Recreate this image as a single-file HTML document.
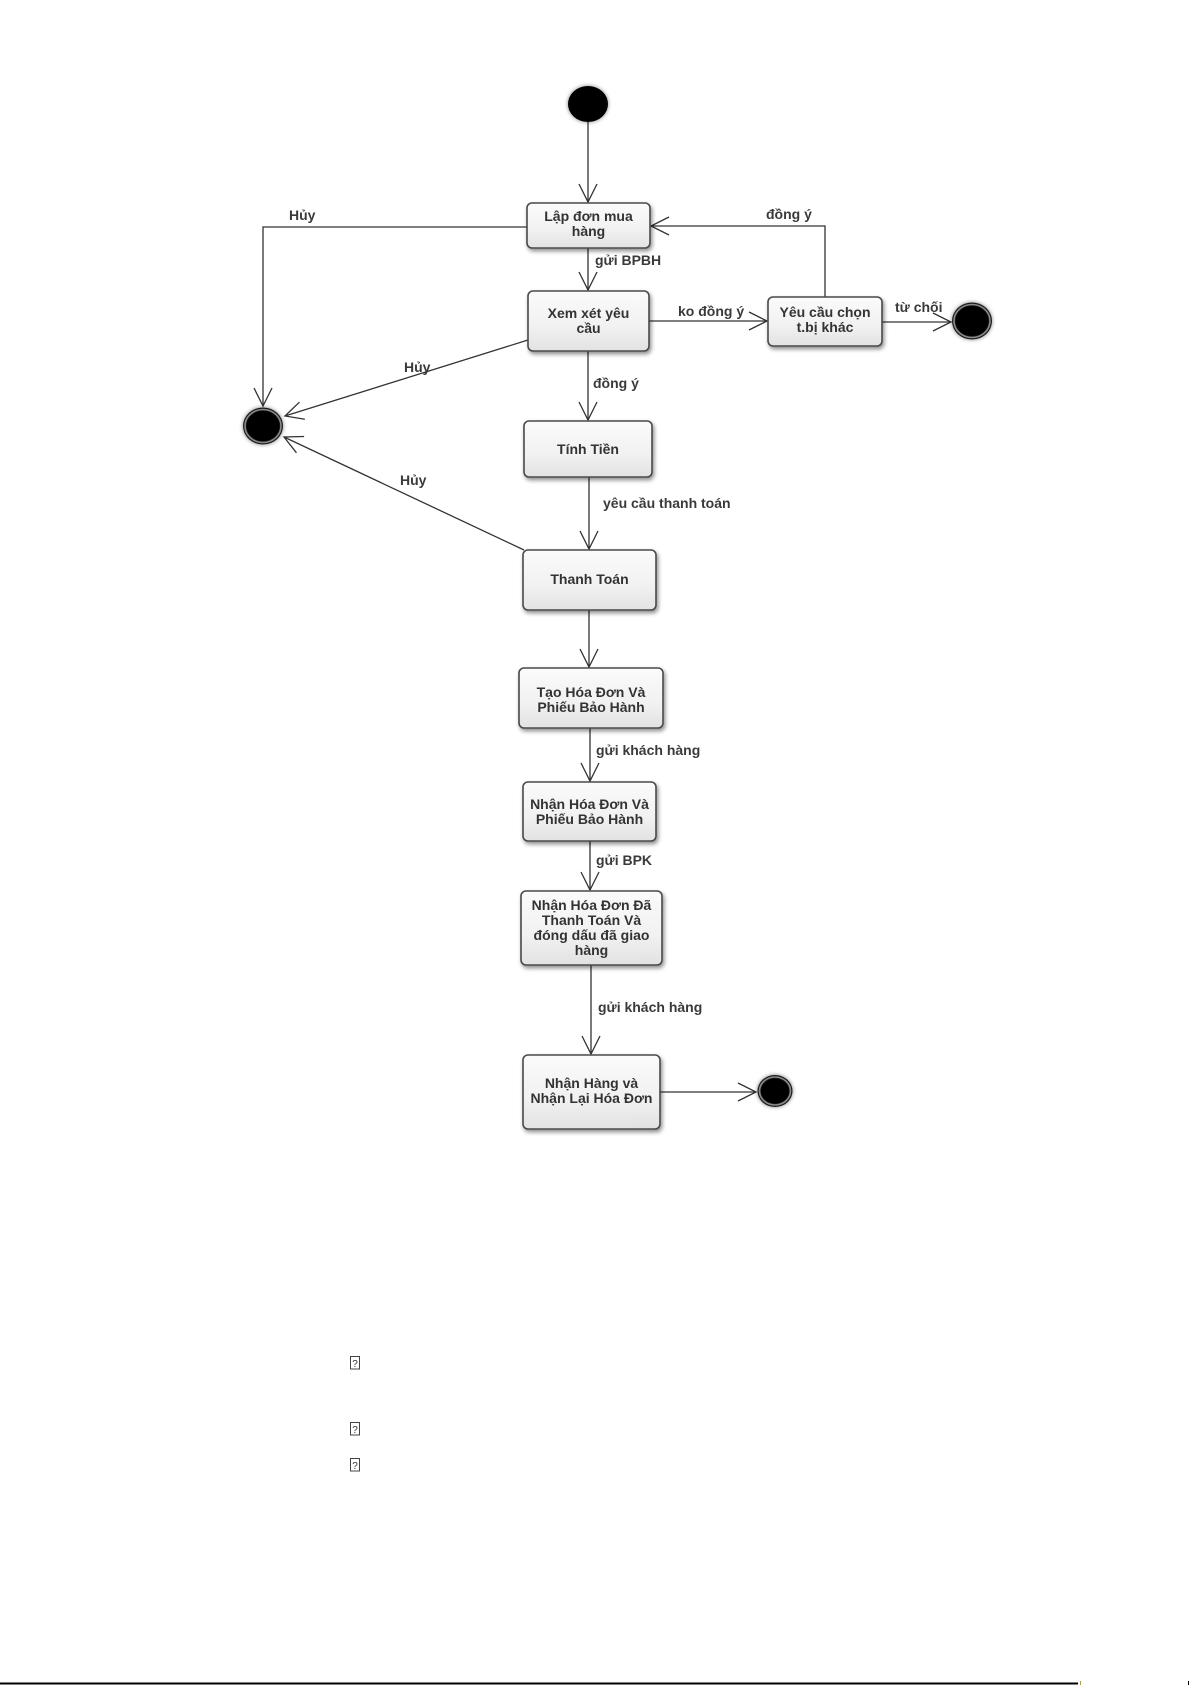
<!DOCTYPE html>
<html>
<head>
<meta charset="utf-8">
<style>
  html,body{margin:0;padding:0;background:#fff;}
  body{width:1192px;height:1685px;overflow:hidden;}
  svg{display:block;}
  .bx{font-family:"Liberation Sans","DejaVu Sans",sans-serif;font-weight:bold;font-size:14px;fill:#333;}
  .lb{font-family:"Liberation Sans","DejaVu Sans",sans-serif;font-weight:bold;font-size:14px;fill:#3a3a3a;}
</style>
</head>
<body>
<svg width="1192" height="1685" viewBox="0 0 1192 1685" xmlns="http://www.w3.org/2000/svg">
  <defs>
    <linearGradient id="g" x1="0" y1="0" x2="0" y2="1">
      <stop offset="0" stop-color="#fbfbfb"/>
      <stop offset="0.6" stop-color="#f1f1f1"/>
      <stop offset="1" stop-color="#e2e2e2"/>
    </linearGradient>
    <filter id="sh" x="-20%" y="-20%" width="140%" height="150%">
      <feGaussianBlur in="SourceAlpha" stdDeviation="2"/>
      <feOffset dx="1.5" dy="2.5" result="o"/>
      <feComponentTransfer><feFuncA type="linear" slope="0.45"/></feComponentTransfer>
      <feMerge><feMergeNode/><feMergeNode in="SourceGraphic"/></feMerge>
    </filter>
    <filter id="cb" x="-50%" y="-50%" width="200%" height="200%">
      <feGaussianBlur in="SourceAlpha" stdDeviation="2.2"/>
      <feComponentTransfer><feFuncA type="linear" slope="0.5"/></feComponentTransfer>
      <feMerge><feMergeNode/><feMergeNode in="SourceGraphic"/></feMerge>
    </filter>
    <marker id="ar" markerUnits="userSpaceOnUse" markerWidth="24" markerHeight="24" viewBox="-20 -12 24 24" refX="0" refY="0" orient="auto">
      <path d="M -18 -9 L 0 0 L -18 9" fill="none" stroke="#333" stroke-width="1.3"/>
    </marker>
  </defs>

  <!-- connectors -->
  <g stroke="#333" stroke-width="1.3" fill="none">
    <line x1="588" y1="122" x2="588" y2="202" marker-end="url(#ar)"/>
    <polyline points="527,227 263,227 263,406" marker-end="url(#ar)"/>
    <line x1="588" y1="248" x2="588" y2="290" marker-end="url(#ar)"/>
    <polyline points="825,297 825,226 651,226" marker-end="url(#ar)"/>
    <line x1="649" y1="321" x2="767" y2="321" marker-end="url(#ar)"/>
    <line x1="882" y1="322" x2="951" y2="322" marker-end="url(#ar)"/>
    <line x1="528" y1="340" x2="285" y2="416" marker-end="url(#ar)"/>
    <line x1="588" y1="351" x2="588" y2="420" marker-end="url(#ar)"/>
    <line x1="589" y1="477" x2="589" y2="549" marker-end="url(#ar)"/>
    <line x1="524" y1="550" x2="284" y2="437" marker-end="url(#ar)"/>
    <line x1="589" y1="610" x2="589" y2="667" marker-end="url(#ar)"/>
    <line x1="590" y1="728" x2="590" y2="781" marker-end="url(#ar)"/>
    <line x1="590" y1="841" x2="590" y2="890" marker-end="url(#ar)"/>
    <line x1="591" y1="965" x2="591" y2="1054" marker-end="url(#ar)"/>
    <line x1="660" y1="1092" x2="756" y2="1092" marker-end="url(#ar)"/>
  </g>

  <!-- start node -->
  <ellipse cx="588" cy="104" rx="20" ry="18" fill="#000" filter="url(#cb)"/>

  <!-- final nodes -->
  <g filter="url(#cb)">
    <ellipse cx="263" cy="426" rx="20" ry="18.5" fill="#1a1a1a"/>
    <ellipse cx="263" cy="426" rx="18" ry="16.5" fill="none" stroke="#8a8a8a" stroke-width="1.6"/>
    <ellipse cx="263" cy="426" rx="16.5" ry="15" fill="#000"/>

    <ellipse cx="972" cy="321" rx="20" ry="18.5" fill="#1a1a1a"/>
    <ellipse cx="972" cy="321" rx="18" ry="16.5" fill="none" stroke="#8a8a8a" stroke-width="1.6"/>
    <ellipse cx="972" cy="321" rx="16.5" ry="15" fill="#000"/>

    <ellipse cx="775" cy="1091" rx="17.5" ry="16" fill="#1a1a1a"/>
    <ellipse cx="775" cy="1091" rx="15.5" ry="14" fill="none" stroke="#8a8a8a" stroke-width="1.6"/>
    <ellipse cx="775" cy="1091" rx="14" ry="12.5" fill="#000"/>
  </g>

  <!-- boxes -->
  <g fill="url(#g)" stroke="#4a4a4a" stroke-width="1.6" filter="url(#sh)">
    <rect x="527" y="203" width="123" height="45" rx="5"/>
    <rect x="528" y="291" width="121" height="60" rx="5"/>
    <rect x="768" y="297" width="114" height="49" rx="5"/>
    <rect x="524" y="421" width="128" height="56" rx="5"/>
    <rect x="523" y="550" width="133" height="60" rx="5"/>
    <rect x="519" y="668" width="144" height="60" rx="5"/>
    <rect x="523" y="782" width="133" height="59" rx="5"/>
    <rect x="521" y="891" width="141" height="74" rx="5"/>
    <rect x="523" y="1055" width="137" height="74" rx="5"/>
  </g>

  <!-- box text -->
  <g class="bx" text-anchor="middle">
    <text x="588.5" y="221">Lập đơn mua</text>
    <text x="588.5" y="236">hàng</text>
    <text x="588.5" y="318">Xem xét yêu</text>
    <text x="588.5" y="333">cầu</text>
    <text x="825" y="317">Yêu cầu chọn</text>
    <text x="825" y="332">t.bị khác</text>
    <text x="588" y="454">Tính Tiền</text>
    <text x="589.5" y="584">Thanh Toán</text>
    <text x="591" y="697">Tạo Hóa Đơn Và</text>
    <text x="591" y="712">Phiếu Bảo Hành</text>
    <text x="589.5" y="809">Nhận Hóa Đơn Và</text>
    <text x="589.5" y="824">Phiếu Bảo Hành</text>
    <text x="591.5" y="910">Nhận Hóa Đơn Đã</text>
    <text x="591.5" y="925">Thanh Toán Và</text>
    <text x="591.5" y="940">đóng dấu đã giao</text>
    <text x="591.5" y="955">hàng</text>
    <text x="591.5" y="1088">Nhận Hàng và</text>
    <text x="591.5" y="1103">Nhận Lại Hóa Đơn</text>
  </g>

  <!-- edge labels -->
  <g class="lb">
    <text x="289" y="220">Hủy</text>
    <text x="595" y="265">gửi BPBH</text>
    <text x="766" y="219">đồng ý</text>
    <text x="678" y="316">ko đồng ý</text>
    <text x="895" y="312">từ chối</text>
    <text x="404" y="372">Hủy</text>
    <text x="593" y="388">đồng ý</text>
    <text x="603" y="508">yêu cầu thanh toán</text>
    <text x="400" y="485">Hủy</text>
    <text x="596" y="755">gửi khách hàng</text>
    <text x="596" y="865">gửi BPK</text>
    <text x="598" y="1012">gửi khách hàng</text>
  </g>

  <!-- missing glyph boxes -->
  <g stroke="#444" stroke-width="1" fill="#fff">
    <rect x="350.5" y="1356.5" width="9" height="12.5"/>
    <rect x="350.5" y="1422.5" width="9" height="12.5"/>
    <rect x="350.5" y="1458.5" width="9" height="12.5"/>
  </g>
  <g font-family="Liberation Sans, sans-serif" font-size="10" fill="#333" text-anchor="middle">
    <text x="355" y="1367">?</text>
    <text x="355" y="1433">?</text>
    <text x="355" y="1469">?</text>
  </g>

  <!-- bottom rule -->
  <rect x="0" y="1682.5" width="1078" height="2" fill="#000"/>
  <rect x="1080" y="1681" width="1" height="4" fill="#c8a000"/>
  <rect x="1188" y="1681" width="1" height="4" fill="#000"/>
</svg>
</body>
</html>
